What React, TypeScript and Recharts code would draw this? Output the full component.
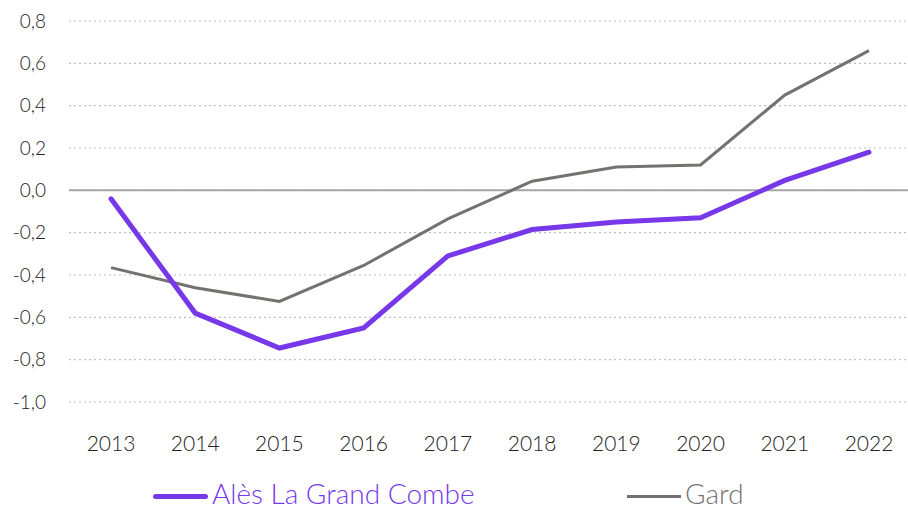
import { LineChart, Line, XAxis, YAxis, CartesianGrid, ReferenceLine, Legend } from "recharts";

const years = ["2013", "2014", "2015", "2016", "2017", "2018", "2019", "2020", "2021", "2022"];
const ales = [-0.04, -0.58, -0.745, -0.65, -0.31, -0.185, -0.15, -0.13, 0.047, 0.18];
const gard = [-0.365, -0.46, -0.525, -0.355, -0.135, 0.043, 0.11, 0.12, 0.45, 0.66];
const yTicks = [-1, -0.8, -0.6, -0.4, -0.2, 0, 0.2, 0.4, 0.6, 0.8];

const PURPLE = "#7638e8";
const GREY = "#767171";
const FONT = "Lato, 'Open Sans', sans-serif";

const data = years.map((y, i) => ({ year: y, ales: ales[i], gard: gard[i] }));

const LegendBox = () => (
  <div style={{ position: "relative", height: 40, fontFamily: FONT, fontWeight: 300, fontSize: 28 }}>
    <div style={{ position: "absolute", left: 153, top: 24, width: 55, height: 5, borderRadius: 3, background: PURPLE }} />
    <span style={{ position: "absolute", left: 212, top: 8, color: PURPLE, lineHeight: "30px" }}>Alès La Grand Combe</span>
    <div style={{ position: "absolute", left: 627, top: 25, width: 54, height: 3, background: GREY }} />
    <span style={{ position: "absolute", left: 685, top: 8, color: GREY, lineHeight: "30px" }}>Gard</span>
  </div>
);

export default function App() {
  return (
    <div style={{ position: "absolute", left: 0, top: 0 }}>
      <LineChart width={911} height={510} data={data} margin={{ top: 21, right: 0, left: 0, bottom: 0 }}>
        <CartesianGrid vertical={false} stroke="#bfbfbf" strokeDasharray="2 3" strokeWidth={1.2} />
        <XAxis
          dataKey="year"
          axisLine={false}
          tickLine={false}
          height={68}
          tickMargin={28}
          padding={{ left: 42, right: 42 }}
          tick={{ fontSize: 21, fill: "#222", fontFamily: FONT, fontWeight: 300 }}
        />
        <YAxis
          domain={[-1, 0.8]}
          ticks={yTicks}
          axisLine={false}
          tickLine={false}
          width={69}
          tickMargin={17}
          tickFormatter={(v: number) => v.toFixed(1).replace(".", ",")}
          tick={{ fontSize: 19, fill: "#222", fontFamily: FONT, fontWeight: 300 }}
        />
        <ReferenceLine y={0} stroke="#a6a6a6" strokeWidth={2} />
        <Legend verticalAlign="bottom" content={<LegendBox />} />
        <Line
          type="linear"
          dataKey="gard"
          stroke={GREY}
          strokeWidth={3}
          dot={false}
          isAnimationActive={false}
        />
        <Line
          type="linear"
          dataKey="ales"
          stroke={PURPLE}
          strokeWidth={5}
          strokeLinecap="round"
          dot={false}
          isAnimationActive={false}
        />
      </LineChart>
    </div>
  );
}
